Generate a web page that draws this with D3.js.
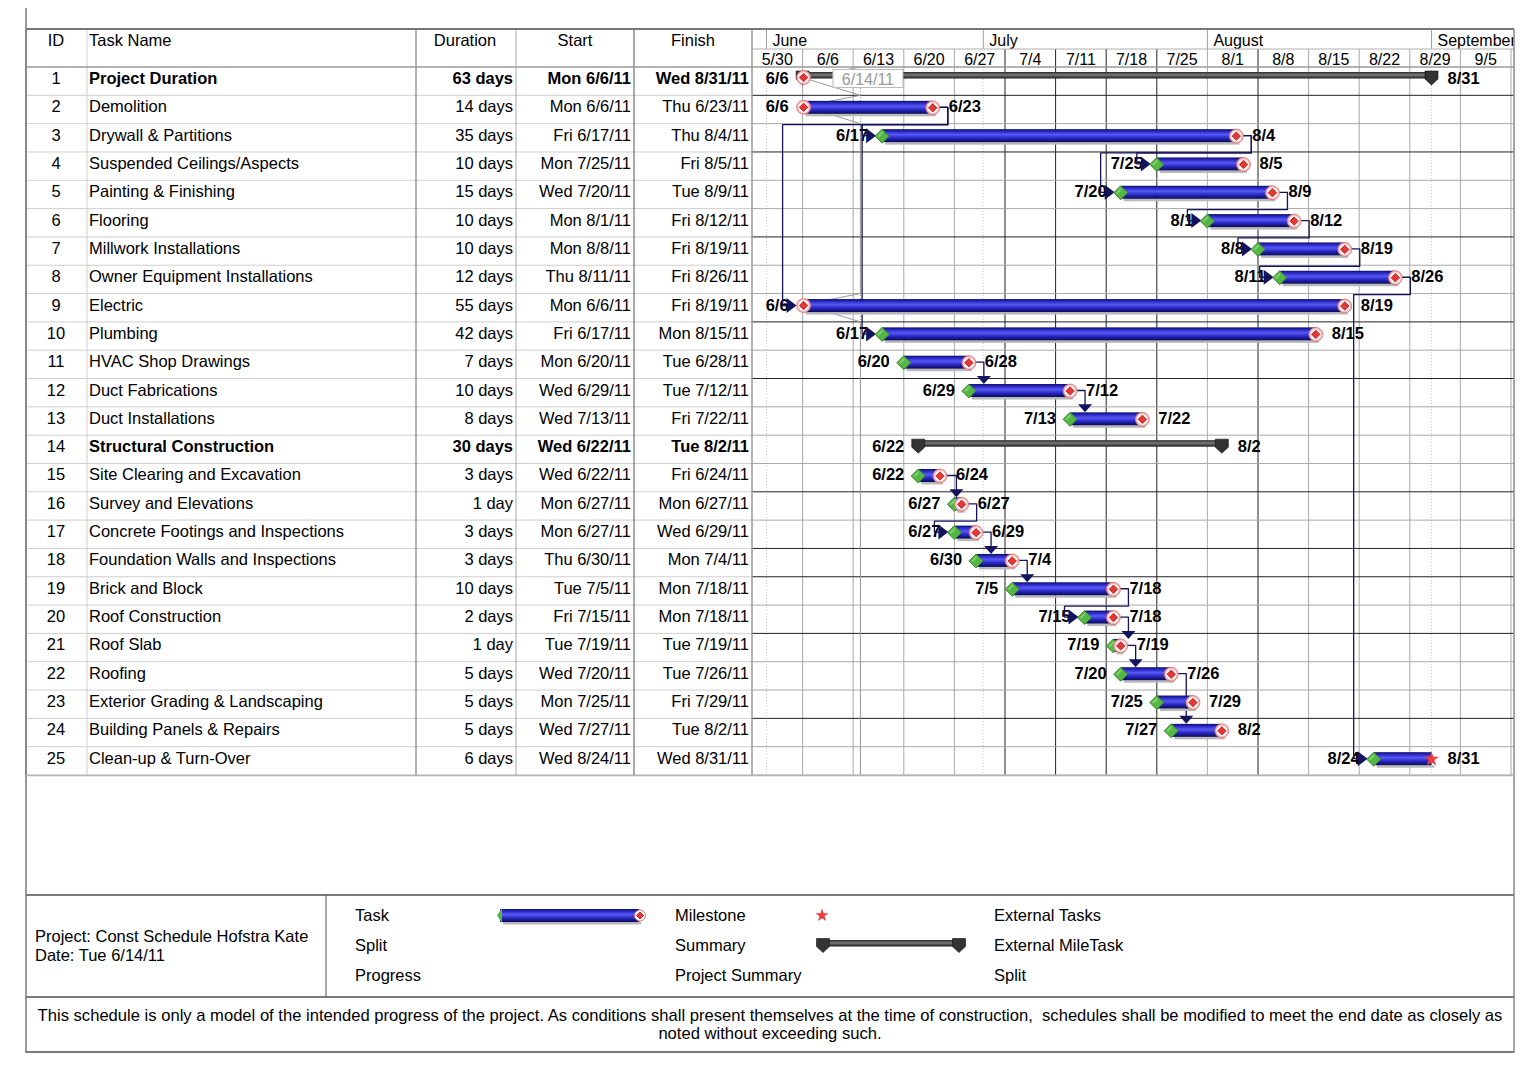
<!DOCTYPE html>
<html>
<head>
<meta charset="utf-8">
<script src="https://cdn.jsdelivr.net/npm/d3@7"></script>
<style>
  body { margin: 0; background: #fff; }
  svg { display: block; font-family: "Liberation Sans", Arial, Helvetica, sans-serif; }
  text { white-space: pre; }
</style>
</head>
<body>
<svg id="chart" width="1536" height="1076"></svg>
<script>
// table columns
var taskIds = [1, 2, 3, 4, 5, 6, 7, 8, 9, 10, 11, 12, 13, 14, 15, 16, 17, 18, 19, 20, 21, 22, 23, 24, 25];
var taskNames = ["Project Duration", "Demolition", "Drywall & Partitions", "Suspended Ceilings/Aspects",
  "Painting & Finishing", "Flooring", "Millwork Installations", "Owner Equipment Installations", "Electric",
  "Plumbing", "HVAC Shop Drawings", "Duct Fabrications", "Duct Installations", "Structural Construction",
  "Site Clearing and Excavation", "Survey and Elevations", "Concrete Footings and Inspections",
  "Foundation Walls and Inspections", "Brick and Block", "Roof Construction", "Roof Slab", "Roofing",
  "Exterior Grading & Landscaping", "Building Panels & Repairs", "Clean-up & Turn-Over"];
var durations = ["63 days", "14 days", "35 days", "10 days", "15 days", "10 days", "10 days", "12 days",
  "55 days", "42 days", "7 days", "10 days", "8 days", "30 days", "3 days", "1 day", "3 days", "3 days",
  "10 days", "2 days", "1 day", "5 days", "5 days", "5 days", "6 days"];
var startDates = ["Mon 6/6/11", "Mon 6/6/11", "Fri 6/17/11", "Mon 7/25/11", "Wed 7/20/11", "Mon 8/1/11",
  "Mon 8/8/11", "Thu 8/11/11", "Mon 6/6/11", "Fri 6/17/11", "Mon 6/20/11", "Wed 6/29/11", "Wed 7/13/11",
  "Wed 6/22/11", "Wed 6/22/11", "Mon 6/27/11", "Mon 6/27/11", "Thu 6/30/11", "Tue 7/5/11", "Fri 7/15/11",
  "Tue 7/19/11", "Wed 7/20/11", "Mon 7/25/11", "Wed 7/27/11", "Wed 8/24/11"];
var finishDates = ["Wed 8/31/11", "Thu 6/23/11", "Thu 8/4/11", "Fri 8/5/11", "Tue 8/9/11", "Fri 8/12/11",
  "Fri 8/19/11", "Fri 8/26/11", "Fri 8/19/11", "Mon 8/15/11", "Tue 6/28/11", "Tue 7/12/11", "Fri 7/22/11",
  "Tue 8/2/11", "Fri 6/24/11", "Mon 6/27/11", "Wed 6/29/11", "Mon 7/4/11", "Mon 7/18/11", "Mon 7/18/11",
  "Tue 7/19/11", "Tue 7/26/11", "Fri 7/29/11", "Tue 8/2/11", "Wed 8/31/11"];
var summaryRows = [1, 14];
var milestoneRows = [25];

// finish-to-start links [predecessor, successor]
var links = [[2, 3], [2, 9], [2, 10], [3, 4], [3, 5], [5, 6], [6, 7], [7, 8], [8, 25], [11, 12], [12, 13],
  [15, 16], [16, 17], [17, 18], [18, 19], [19, 20], [20, 21], [21, 22], [22, 24]];

// timescale labels
var weekLabels = ["5/30", "6/6", "6/13", "6/20", "6/27", "7/4", "7/11", "7/18", "7/25", "8/1", "8/8",
  "8/15", "8/22", "8/29", "9/5"];
var monthLabels = ["June", "July", "August", "September"];
var monthStarts = ["6/1/11", "7/1/11", "8/1/11", "9/1/11"];
var statusDateText = "Tue 6/14/11";

var headerLabels = ["ID", "Task Name", "Duration", "Start", "Finish"];
var projectInfo = ["Project: Const Schedule Hofstra Kate", "Date: Tue 6/14/11"];
var legendColumns = [["Task", "Split", "Progress"], ["Milestone", "Summary", "Project Summary"],
  ["External Tasks", "External MileTask", "Split"]];
var footerNote = ["This schedule is only a model of the intended progress of the project. As conditions shall present themselves at the time of construction,  schedules shall be modified to meet the end date as closely as",
  "noted without exceeding such."];

// print-render artefact: grid lines that came out darker
var darkWeekLines = ["7/4", "7/11", "7/18", "7/25", "8/8"];
var darkRowLines = [1, 3, 6, 9, 11, 15, 17, 18, 20, 23];

var parseDay = d3.timeParse("%a %m/%d/%y");
var parseShort = d3.timeParse("%m/%d/%y");
var fmtShort = d3.timeFormat("%-m/%-d");

var statusDay = parseDay(statusDateText);
var tasks = taskIds.map(function(id, i) {
  var s = parseDay(startDates[i]), f = parseDay(finishDates[i]);
  return {
    id: id, name: taskNames[i], duration: durations[i],
    startText: startDates[i], finishText: finishDates[i],
    start: s, finish: f, end: d3.timeDay.offset(f, 1),
    summary: summaryRows.indexOf(id) >= 0,
    milestone: milestoneRows.indexOf(id) >= 0,
    started: +s <= +statusDay
  };
});
var byId = {};
tasks.forEach(function(t) { byId[t.id] = t; });

var weekDates = weekLabels.map(function(w) { return parseShort(w + "/11"); });

// layout
var L = 26, R = 1514, topY = 29, midY = 49, headY = 67, bodyBot = 775;
var gx0 = 752, gx1 = 1511;
var cols = [26, 87, 416, 516, 634, 752];

var x = d3.scaleTime()
  .domain([weekDates[0], d3.timeDay.offset(weekDates[weekDates.length - 1], 7)])
  .range([gx0, gx1]);
var y = d3.scaleBand().domain(taskIds).range([headY, bodyBot]);
var rh = y.bandwidth();

var svg = d3.select("#chart");
var defs = svg.append("defs");

var tg = defs.append("linearGradient").attr("id", "taskGrad").attr("x1", 0).attr("y1", 0).attr("x2", 0).attr("y2", 1);
[[0, "#0e0e6a"], [0.22, "#3030d4"], [0.42, "#5858f2"], [0.7, "#2626c0"], [1, "#0a0a52"]].forEach(function(s) {
  tg.append("stop").attr("offset", s[0]).attr("stop-color", s[1]);
});
var sg = defs.append("linearGradient").attr("id", "sumGrad").attr("x1", 0).attr("y1", 0).attr("x2", 0).attr("y2", 1);
[[0, "#2a2a2a"], [0.45, "#7a7a7a"], [1, "#1a1a1a"]].forEach(function(s) {
  sg.append("stop").attr("offset", s[0]).attr("stop-color", s[1]);
});
defs.append("clipPath").attr("id", "ganttClip").append("rect")
  .attr("x", gx0).attr("y", topY).attr("width", R - gx0).attr("height", bodyBot - topY);

svg.append("rect").attr("width", 1536).attr("height", 1076).attr("fill", "#fff");

// ---------- table grid ----------
var grid = svg.append("g");
grid.selectAll("line.trow").data(taskIds).enter().append("line")
  .attr("x1", L).attr("x2", gx0)
  .attr("y1", function(d) { return y(d) + rh; }).attr("y2", function(d) { return y(d) + rh; })
  .attr("stroke", "#cfcfcf").attr("stroke-width", 1);

// ---------- gantt grid ----------
var gantt = svg.append("g").attr("clip-path", "url(#ganttClip)");
gantt.selectAll("line.week").data(weekDates.slice(1).concat([x.domain()[1]])).enter().append("line")
  .attr("x1", function(d) { return x(d); }).attr("x2", function(d) { return x(d); })
  .attr("y1", midY).attr("y2", bodyBot)
  .attr("stroke", function(d) { return darkWeekLines.indexOf(fmtShort(d)) >= 0 ? "#222" : "#a8a8a8"; })
  .attr("stroke-width", 1);
gantt.selectAll("line.month").data(monthStarts.map(parseShort)).enter().append("line")
  .attr("x1", function(d) { return x(d); }).attr("x2", function(d) { return x(d); })
  .attr("y1", headY).attr("y2", bodyBot)
  .attr("stroke", "#c8c8c8").attr("stroke-dasharray", "1,2");
gantt.selectAll("line.row").data(taskIds).enter().append("line")
  .attr("x1", gx0).attr("x2", R)
  .attr("y1", function(d) { return y(d) + rh; }).attr("y2", function(d) { return y(d) + rh; })
  .attr("stroke", function(d) { return darkRowLines.indexOf(d) >= 0 ? "#222" : "#a8a8a8"; })
  .attr("stroke-width", 1);

// month row of the timescale
var monthDates = monthStarts.map(parseShort);
gantt.selectAll("line.mhead").data(monthDates).enter().append("line")
  .attr("x1", function(d) { return x(d); }).attr("x2", function(d) { return x(d); })
  .attr("y1", topY).attr("y2", midY).attr("stroke", "#a0a0a0");
gantt.selectAll("text.month").data(monthLabels).enter().append("text")
  .attr("x", function(d, i) { return x(monthDates[i]) + 6; }).attr("y", 46)
  .attr("font-size", 16).attr("fill", "#000").text(function(d) { return d; });
gantt.selectAll("text.week").data(weekDates).enter().append("text")
  .attr("x", function(d) { return (x(d) + x(d3.timeDay.offset(d, 7))) / 2; }).attr("y", 65)
  .attr("text-anchor", "middle").attr("font-size", 16).attr("fill", "#000")
  .text(function(d) { return fmtShort(d); });
svg.append("line").attr("x1", gx0).attr("x2", R).attr("y1", midY).attr("y2", midY).attr("stroke", "#b0b0b0");

// column lines
var colStroke = ["#777", "#cfcfcf", "#666", "#a8a8a8", "#555", "#999"];
svg.selectAll("line.col").data(cols).enter().append("line")
  .attr("x1", function(d) { return d; }).attr("x2", function(d) { return d; })
  .attr("y1", topY).attr("y2", bodyBot)
  .attr("stroke", function(d, i) { return colStroke[i]; }).attr("stroke-width", function(d, i) { return i === 5 ? 1.5 : 1; });

// header text
var headX = [56, 89, 465, 575, 693];
var headAnchor = ["middle", "start", "middle", "middle", "middle"];
svg.selectAll("text.head").data(headerLabels).enter().append("text")
  .attr("x", function(d, i) { return headX[i]; }).attr("y", 46)
  .attr("text-anchor", function(d, i) { return headAnchor[i]; })
  .attr("font-size", 16.5).text(function(d) { return d; });

// table cells
var rows = svg.append("g").selectAll("g").data(tasks).enter().append("g")
  .attr("transform", function(d) { return "translate(0," + (y(d.id) + 17) + ")"; })
  .attr("font-size", 16.5)
  .attr("font-weight", function(d) { return d.summary ? "bold" : "normal"; });
rows.append("text").attr("x", 56).attr("text-anchor", "middle").attr("font-weight", "normal").text(function(d) { return d.id; });
rows.append("text").attr("x", 89).text(function(d) { return d.name; });
rows.append("text").attr("x", 513).attr("text-anchor", "end").text(function(d) { return d.duration; });
rows.append("text").attr("x", 631).attr("text-anchor", "end").text(function(d) { return d.startText; });
rows.append("text").attr("x", 749).attr("text-anchor", "end").text(function(d) { return d.finishText; });

// ---------- status date + progress line ----------
var sx = x(statusDay);
gantt.append("line").attr("x1", sx).attr("x2", sx).attr("y1", headY).attr("y2", bodyBot)
  .attr("stroke", "#999").attr("stroke-dasharray", "1,2");
var prog = [[sx, headY]];
tasks.forEach(function(t) {
  if (!t.started) return;
  prog.push([sx, y(t.id)]);
  prog.push([x(t.start) + 1, y(t.id) + 11]);
  prog.push([sx, y(t.id) + rh]);
});
prog.push([sx, bodyBot]);
gantt.append("path").attr("d", d3.line()(prog)).attr("fill", "none").attr("stroke", "#9a9a9a").attr("stroke-width", 1);

// ---------- date labels ----------
var labels = gantt.append("g").attr("font-size", 16.5).attr("font-weight", "bold").attr("fill", "#000");
labels.selectAll("text.s").data(tasks).enter().append("text")
  .attr("x", function(d) { return x(d.start) - 14; }).attr("y", function(d) { return y(d.id) + 17; })
  .attr("text-anchor", "end").text(function(d) { return fmtShort(d.start); });
labels.selectAll("text.f").data(tasks).enter().append("text")
  .attr("x", function(d) { return x(d.end) + 16; }).attr("y", function(d) { return y(d.id) + 17; })
  .text(function(d) { return fmtShort(d.finish); });

// ---------- links ----------
var linkG = gantt.append("g");
var linkColor = "#14145e";
links.forEach(function(l) {
  var p = byId[l[0]], s = byId[l[1]];
  var pe = x(p.end), cyP = y(p.id) + 12, ss = x(s.start), cyS = y(s.id) + 12;
  var xr = pe + 15;
  var pts, arrow;
  if (+s.start >= +p.end) {
    var ax = Math.max(xr, ss + 2);
    var topS = y(s.id) + 5.5;
    pts = [[pe + 6, cyP], [ax, cyP], [ax, topS - 7]];
    arrow = [[ax - 7, topS - 8], [ax + 7, topS - 8], [ax, topS]];
  } else {
    var yb = y(p.id) + rh + 1;
    pts = [[pe + 6, cyP], [xr, cyP], [xr, yb], [ss - 20, yb], [ss - 20, cyS], [ss - 15, cyS]];
    arrow = [[ss - 16, cyS - 7.5], [ss - 16, cyS + 7.5], [ss - 6, cyS]];
  }
  linkG.append("path").attr("d", d3.line()(pts)).attr("fill", "none")
    .attr("stroke", linkColor).attr("stroke-width", 1.3).attr("stroke-linejoin", "round");
  linkG.append("path").attr("d", d3.line()(arrow) + "Z").attr("fill", linkColor);
});

// ---------- bars ----------
function diamond(g, cx, cy, r, fill, stroke) {
  g.append("path").attr("d", d3.line()([[cx - r, cy], [cx, cy - r], [cx + r, cy], [cx, cy + r]]) + "Z")
    .attr("fill", fill).attr("stroke", stroke).attr("stroke-width", 1);
}
function redMarker(g, cx, cy) {
  g.append("circle").attr("cx", cx).attr("cy", cy).attr("r", 7).attr("fill", "#f4b8b8").attr("stroke", "#e07070").attr("stroke-width", 0.8);
  g.append("circle").attr("cx", cx).attr("cy", cy).attr("r", 5.3).attr("fill", "#fff");
  diamond(g, cx, cy, 4.2, "#e23838", "#c22");
}
function greenMarker(g, cx, cy) {
  diamond(g, cx, cy, 7, "#55b545", "#3a8a2e");
  g.append("path").attr("d", d3.line()([[cx - 5, cy], [cx, cy - 5], [cx + 1, cy - 3], [cx - 3, cy + 1]]) + "Z")
    .attr("fill", "#8fdc7e").attr("opacity", 0.7);
}
function summaryCap(g, cx, top) {
  g.append("path").attr("d", d3.line()([[cx - 6.5, top], [cx + 6.5, top], [cx + 6.5, top + 8], [cx, top + 14], [cx - 6.5, top + 8]]) + "Z")
    .attr("fill", "#333").attr("stroke", "#111").attr("stroke-width", 0.6);
}
function star(g, cx, cy, r) {
  g.append("path").attr("d", d3.symbol().type(d3.symbolStar).size(r * r * 1.1)())
    .attr("transform", "translate(" + cx + "," + cy + ")").attr("fill", "#ee3b3b");
}

var bars = gantt.append("g");
tasks.forEach(function(t) {
  var g = bars.append("g");
  var top = y(t.id), x0 = x(t.start), x1 = x(t.end);
  if (t.summary) {
    g.append("rect").attr("x", x0).attr("y", top + 5).attr("width", x1 - x0).attr("height", 6.5).attr("fill", "url(#sumGrad)");
    summaryCap(g, x0, top + 4);
    summaryCap(g, x1, top + 4);
    if (t.started) redMarker(g, x0 + 1, top + 10.5);
    return;
  }
  g.append("rect").attr("x", x0 + 3).attr("y", top + 18.5).attr("width", x1 - x0).attr("height", 2.5).attr("fill", "#b9b9b9");
  g.append("rect").attr("x", x0).attr("y", top + 5.5).attr("width", x1 - x0).attr("height", 13).attr("fill", "url(#taskGrad)");
  if (t.started) redMarker(g, x0 + 1, top + 12);
  else greenMarker(g, x0, top + 12.5);
  if (t.milestone) star(g, x1, top + 12.5, 8);
  else redMarker(g, x1, top + 12.5);
});

// status date tag
gantt.append("rect").attr("x", sx - 27.5).attr("y", 69.5).attr("width", 70).attr("height", 18)
  .attr("fill", "#fff").attr("stroke", "#bdbdbd");
gantt.append("text").attr("x", sx + 7.5).attr("y", 84.5).attr("text-anchor", "middle")
  .attr("font-size", 16).attr("fill", "#9a9a9a").text(d3.timeFormat("%-m/%-d/%y")(statusDay));

// ---------- frame ----------
var frame = svg.append("g").attr("fill", "none");
frame.append("line").attr("x1", L).attr("x2", L).attr("y1", 8).attr("y2", 1053).attr("stroke", "#777").attr("stroke-width", 1.5);
frame.append("line").attr("x1", R).attr("x2", R).attr("y1", topY).attr("y2", 1053).attr("stroke", "#888").attr("stroke-width", 1.5);
frame.append("line").attr("x1", L).attr("x2", R).attr("y1", topY).attr("y2", topY).attr("stroke", "#777").attr("stroke-width", 2);
frame.append("line").attr("x1", L).attr("x2", R).attr("y1", headY).attr("y2", headY).attr("stroke", "#9a9a9a").attr("stroke-width", 1.5);
frame.append("line").attr("x1", L).attr("x2", R).attr("y1", bodyBot + 0.5).attr("y2", bodyBot + 0.5).attr("stroke", "#b5b5b5").attr("stroke-width", 1.5);
[895, 997, 1052].forEach(function(yy) {
  frame.append("line").attr("x1", L).attr("x2", R).attr("y1", yy).attr("y2", yy).attr("stroke", "#7a7a7a").attr("stroke-width", 2);
});
frame.append("line").attr("x1", 326).attr("x2", 326).attr("y1", 895).attr("y2", 997).attr("stroke", "#555").attr("stroke-width", 1);

// ---------- legend ----------
var legend = svg.append("g").attr("font-size", 16.5).attr("fill", "#000");
legend.selectAll("text.info").data(projectInfo).enter().append("text")
  .attr("x", 35).attr("y", function(d, i) { return 942 + i * 19; }).text(function(d) { return d; });
var legX = [355, 675, 994];
legendColumns.forEach(function(col, ci) {
  legend.selectAll("text.c" + ci).data(col).enter().append("text")
    .attr("x", legX[ci]).attr("y", function(d, i) { return 921 + i * 30; }).text(function(d) { return d; });
});
var lt = legend.append("g");
lt.append("rect").attr("x", 503).attr("y", 922).attr("width", 138).attr("height", 2.5).attr("fill", "#b9b9b9");
lt.append("rect").attr("x", 500).attr("y", 909).attr("width", 139).attr("height", 13).attr("fill", "url(#taskGrad)");
lt.append("path").attr("d", "M497,915.5L502,908L502,923Z").attr("fill", "#55b545");
lt.append("circle").attr("cx", 640).attr("cy", 915.5).attr("r", 5.5).attr("fill", "#fff").attr("stroke", "#e07070");
diamond(lt, 640, 915.5, 3.5, "#e23838", "#c22");
star(legend, 822, 915.5, 7);
var ls = legend.append("g");
ls.append("rect").attr("x", 818).attr("y", 940).attr("width", 146).attr("height", 6.5).attr("fill", "url(#sumGrad)");
summaryCap(ls, 823, 938.5);
summaryCap(ls, 959, 938.5);

// ---------- footer ----------
svg.append("g").selectAll("text").data(footerNote).enter().append("text")
  .attr("x", 770).attr("y", function(d, i) { return 1021 + i * 18; })
  .attr("text-anchor", "middle").attr("font-size", 16.6).text(function(d) { return d; });
</script>
</body>
</html>
